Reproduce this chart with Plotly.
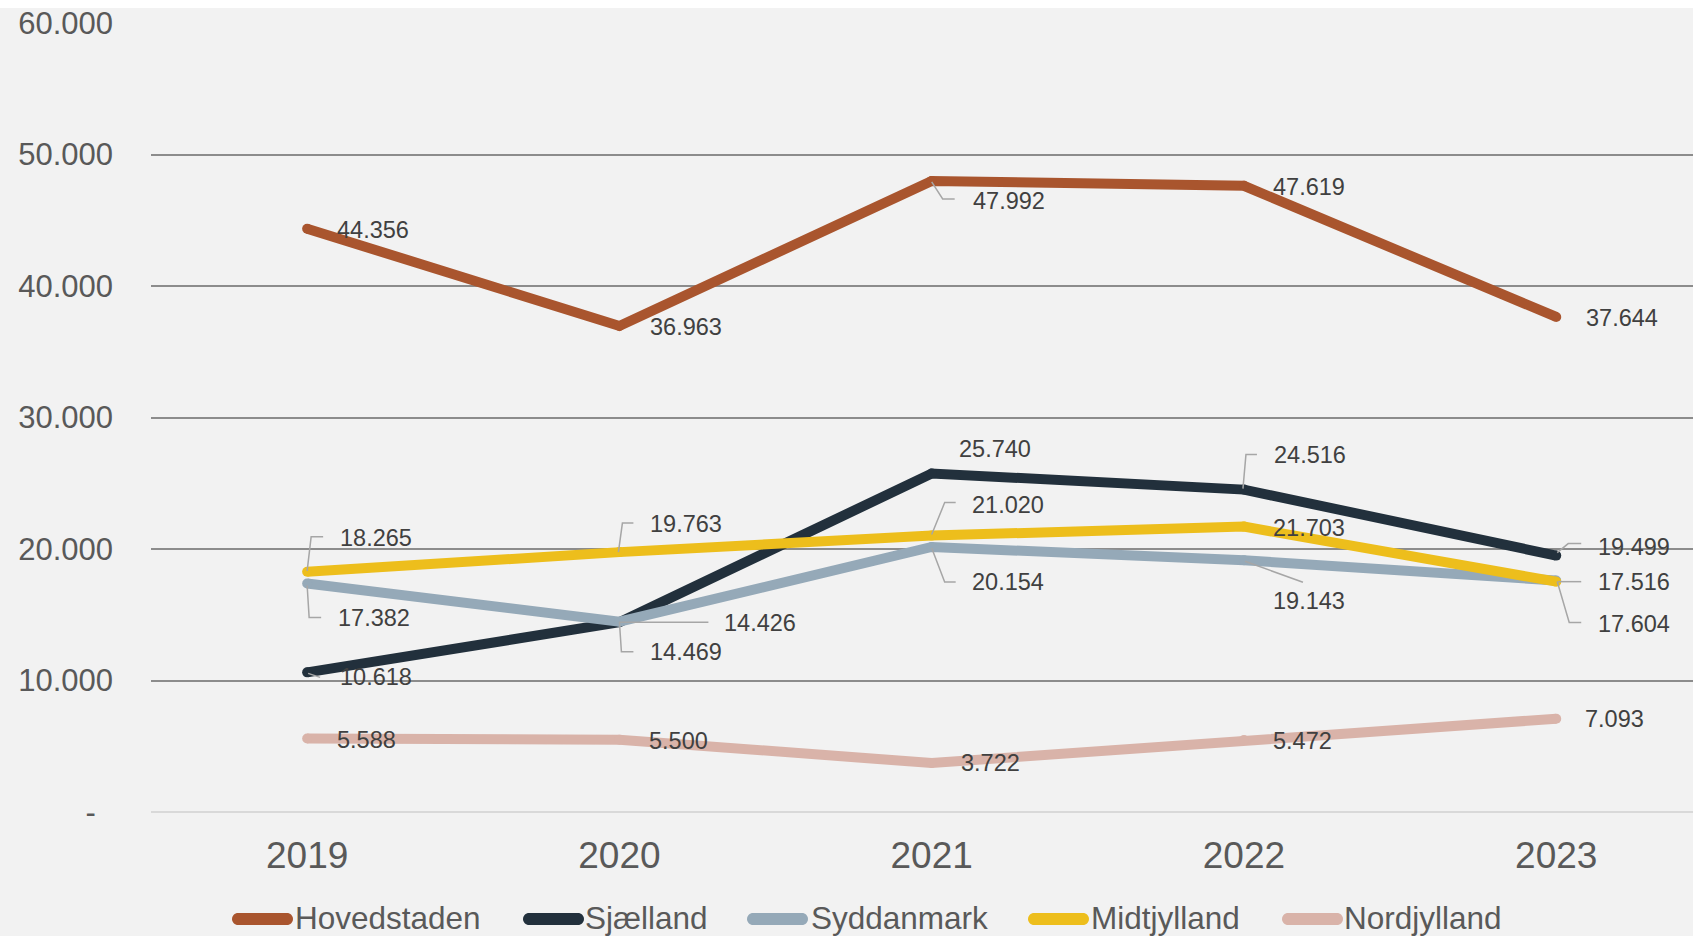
import plotly.graph_objects as go

# ---- data -------------------------------------------------------------
years = ["2019", "2020", "2021", "2022", "2023"]

hovedstaden = [44356, 36963, 47992, 47619, 37644]
sjaelland = [10618, 14426, 25740, 24516, 19499]
syddanmark = [17382, 14469, 20154, 19143, 17604]
midtjylland = [18265, 19763, 21020, 21703, 17516]
nordjylland = [5588, 5500, 3722, 5472, 7093]

y_ticks = [0, 10000, 20000, 30000, 40000, 50000, 60000]
y_tick_text = ["-\u00a0\u00a0", "10.000", "20.000", "30.000", "40.000", "50.000", "60.000"]

series = [
    ("Hovedstaden", hovedstaden, "#A9552E"),
    ("Sjælland", sjaelland, "#22303C"),
    ("Syddanmark", syddanmark, "#95A9B8"),
    ("Midtjylland", midtjylland, "#EDBE1C"),
    ("Nordjylland", nordjylland, "#D9B3A9"),
]

# ---- label placement (pixel offsets from each point, +down) ------------
# each entry: (dx, dy, leader polyline or None)
label_pos = {
    "Hovedstaden": [
        (29, 1, None), (30, 1, None),
        (40, 20, [(0, 1), (11, 18), (23, 18)]),
        (28, 1, None), (29, 1, None),
    ],
    "Sjælland": [
        (32, 5, [(1, 1), (13, 5)]),
        (104, 1, [(0, 0), (89, 0)]),
        (26, -25, None),
        (29, -35, [(-1, -1), (2, -35), (13, -35)]),
        (41, -9, [(1, -3), (12, -12), (25, -12)]),
    ],
    "Syddanmark": [
        (30, 35, [(0, 2), (2, 34), (14, 34)]),
        (30, 30, [(0, 0), (2, 30), (14, 30)]),
        (39, 35, [(0, 1), (13, 35), (24, 35)]),
        (28, 41, [(1, 1), (59, 22)]),
        (41, 43, [(1, 1), (13, 42), (25, 42)]),
    ],
    "Midtjylland": [
        (32, -34, [(0, -1), (4, -35), (16, -35)]),
        (30, -28, [(-1, 0), (3, -29), (14, -29)]),
        (39, -31, [(0, -1), (13, -33), (24, -33)]),
        (28, 1, None),
        (41, 0, [(2, 0), (25, 0)]),
    ],
    "Nordjylland": [
        (29, 1, None), (29, 1, None), (28, 0, None), (28, 1, None), (28, 0, None),
    ],
}

FONT = "Liberation Sans, Arial, sans-serif"
W, H = 1693, 936
ML, MR, MT, MB = 151, 0, 23, 124
PW = W - ML - MR
PH = H - MT - MB

fig = go.Figure()
x_idx = list(range(len(years)))

for name, vals, color in series:
    fig.add_trace(go.Scatter(
        x=x_idx, y=vals, name=name, mode="lines+markers",
        line=dict(color=color, width=10),
        marker=dict(color=color, size=10, line=dict(width=0)),
        showlegend=False, hoverinfo="skip",
    ))

annotations = []
shapes = []


def fmt(v):
    return f"{v:,}".replace(",", ".")


for name, vals, color in series:
    for i, v in enumerate(vals):
        dx, dy, leader = label_pos[name][i]
        annotations.append(dict(
            x=i, y=v, xref="x", yref="y", text=fmt(v), showarrow=False,
            xanchor="left", yanchor="middle", xshift=dx, yshift=-dy,
            borderpad=0, font=dict(family=FONT, size=23.5, color="#404040"),
        ))
        if leader:
            path = "M" + " L".join(f"{px},{-py}" for px, py in leader)
            shapes.append(dict(
                type="path", xref="x", yref="y", xsizemode="pixel", ysizemode="pixel",
                xanchor=i, yanchor=v, path=path,
                line=dict(color="#A6A6A6", width=1.5), layer="above",
            ))

# ---- legend drawn as rounded swatches + text -------------------------
legend_sym_x = [232, 523, 747, 1028, 1282]
legend_txt_x = [294, 584, 810, 1090, 1343]
legend_y = 918
sym_len, r = 61, 6
k = 0.5523 * r


def rounded_bar(x0, yc):
    # pixel coordinates relative to the plot's bottom-left corner, y up
    ax, ay = x0 - ML, (MT + PH) - yc
    x1 = ax + sym_len
    return (
        f"M{ax + r},{ay + r} L{x1 - r},{ay + r} "
        f"C{x1 - r + k},{ay + r} {x1},{ay + k} {x1},{ay} "
        f"C{x1},{ay - k} {x1 - r + k},{ay - r} {x1 - r},{ay - r} "
        f"L{ax + r},{ay - r} "
        f"C{ax + r - k},{ay - r} {ax},{ay - k} {ax},{ay} "
        f"C{ax},{ay + k} {ax + r - k},{ay + r} {ax + r},{ay + r} Z"
    )


for (name, _, color), sx, tx in zip(series, legend_sym_x, legend_txt_x):
    shapes.append(dict(
        type="path", xref="paper", yref="paper", xsizemode="pixel", ysizemode="pixel",
        xanchor=0, yanchor=0, path=rounded_bar(sx, legend_y + 1),
        fillcolor=color, line=dict(width=0), layer="above",
    ))
    annotations.append(dict(
        x=(tx - ML) / PW, y=((MT + PH) - legend_y) / PH, xref="paper", yref="paper",
        text=name, showarrow=False, xanchor="left", yanchor="middle", borderpad=0,
        font=dict(family=FONT, size=31.5, color="#595959"),
    ))

# white strip along the top edge
shapes.append(dict(
    type="rect", xref="paper", yref="paper", xsizemode="pixel", ysizemode="pixel",
    xanchor=0, yanchor=0, x0=-ML, x1=PW + 5, y0=PH + MT - 8, y1=PH + MT + 5,
    fillcolor="white", line=dict(width=0), layer="below",
))

fig.update_layout(
    width=W, height=H,
    margin=dict(l=ML, r=MR, t=MT, b=MB, pad=0),
    paper_bgcolor="#F2F2F2", plot_bgcolor="#F2F2F2",
    showlegend=False,
    xaxis=dict(
        range=[-0.5, 4.438], tickvals=x_idx, ticktext=years,
        showgrid=False, zeroline=False, showline=False, ticks="",
        tickfont=dict(family=FONT, size=37, color="#595959"),
        ticklabelstandoff=18,
    ),
    yaxis=dict(
        range=[0, 60000], tickvals=y_ticks, ticktext=y_tick_text,
        showgrid=True, gridcolor="#8C8C8C", gridwidth=1.5,
        zeroline=True, zerolinecolor="#D9D9D9", zerolinewidth=1.5,
        showline=False, ticks="",
        tickfont=dict(family=FONT, size=31, color="#595959"),
        ticklabelstandoff=37,
    ),
    annotations=annotations,
    shapes=shapes,
)

fig.write_html("out.html")
